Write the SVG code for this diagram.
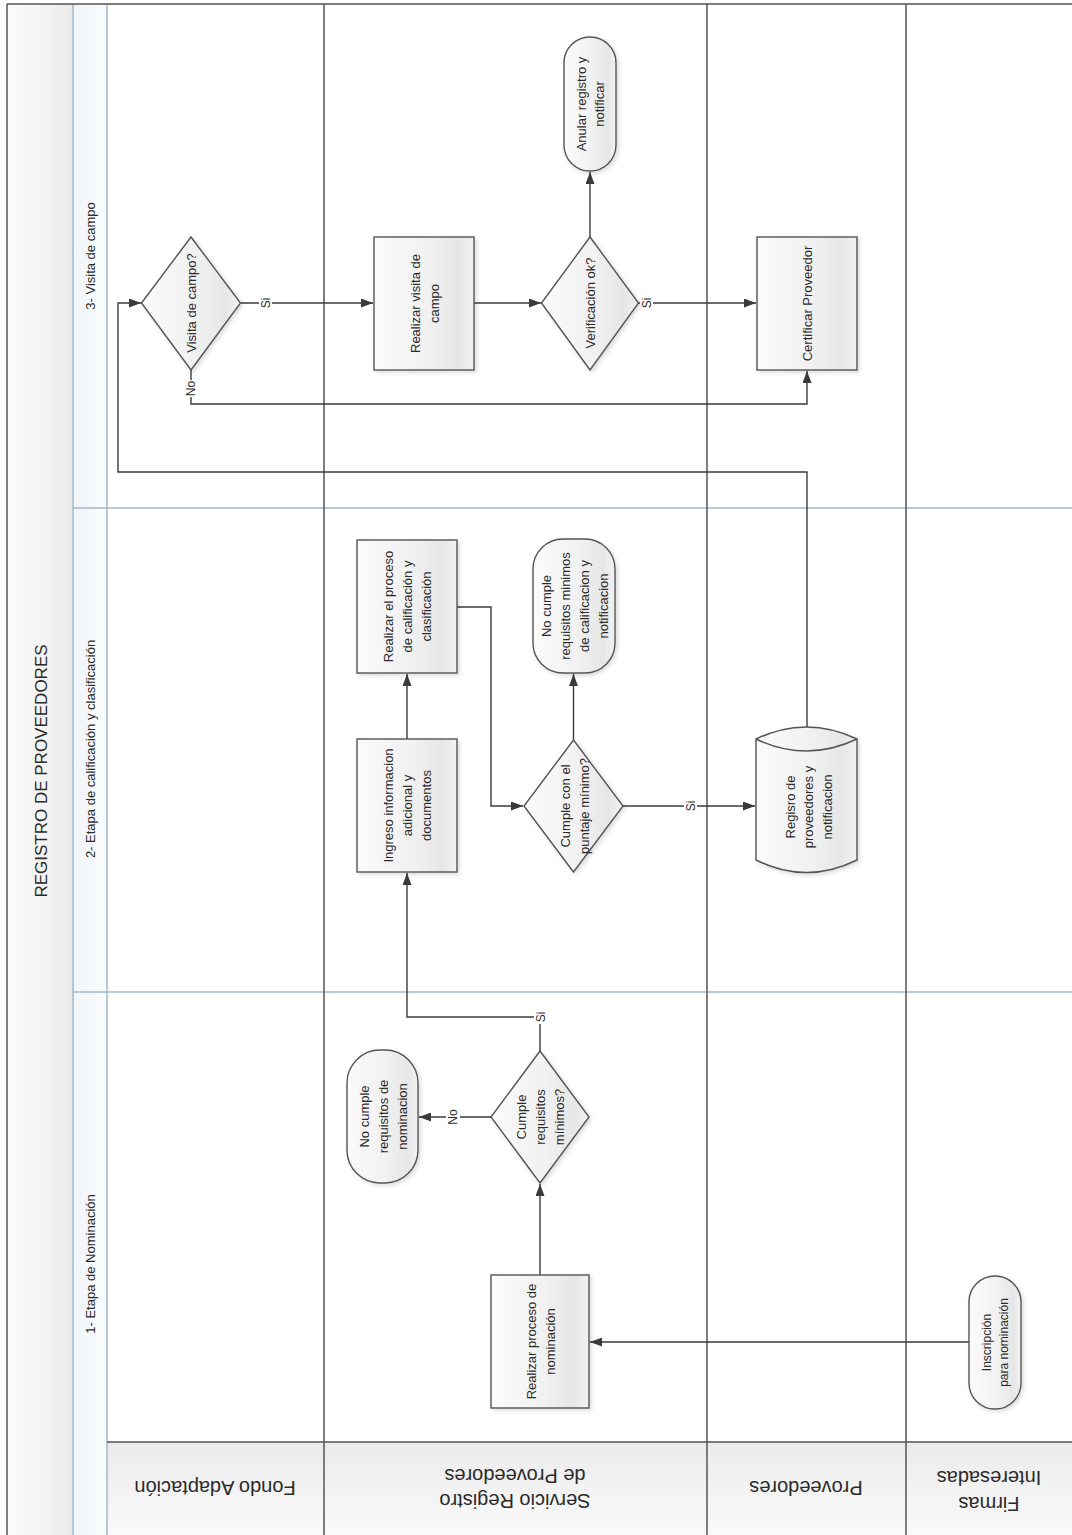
<svg xmlns="http://www.w3.org/2000/svg" width="1072" height="1535" viewBox="0 0 1072 1535">
<defs>
  <linearGradient id="gNode" x1="0" y1="0" x2="1" y2="0">
    <stop offset="0" stop-color="#fbfbfb"/>
    <stop offset="0.55" stop-color="#f1f1f1"/>
    <stop offset="0.85" stop-color="#e6e6e6"/>
    <stop offset="1" stop-color="#f2f2f2"/>
  </linearGradient>
  <linearGradient id="gTitle" x1="0" y1="0" x2="1" y2="0">
    <stop offset="0" stop-color="#fbfbfb"/>
    <stop offset="0.6" stop-color="#f3f3f3"/>
    <stop offset="1" stop-color="#e9e9e9"/>
  </linearGradient>
  <linearGradient id="gPhase" x1="0" y1="0" x2="1" y2="0">
    <stop offset="0" stop-color="#f1f5f9"/>
    <stop offset="1" stop-color="#fafcfd"/>
  </linearGradient>
  <linearGradient id="gHead" x1="0" y1="0" x2="0" y2="1">
    <stop offset="0" stop-color="#ebebeb"/>
    <stop offset="1" stop-color="#fafafa"/>
  </linearGradient>
  <marker id="arr" viewBox="0 0 12 9" refX="12" refY="4.5" markerWidth="12" markerHeight="9" markerUnits="userSpaceOnUse" orient="auto">
    <path d="M0,0 L12,4.5 L0,9 Z" fill="#3a3a3a"/>
  </marker>
  <filter id="sh" x="-15%" y="-15%" width="135%" height="135%">
    <feDropShadow dx="2" dy="2" stdDeviation="2" flood-color="#000" flood-opacity="0.14"/>
  </filter>
</defs>
<style>
  .shape { fill: url(#gNode); stroke: #555; stroke-width: 1.4; filter: url(#sh); }
  .t { font-family: "Liberation Sans", Arial, sans-serif; font-size: 13px; fill: #2b2b2b; text-anchor: middle; dominant-baseline: central; }
  .hd { font-family: "Liberation Sans", Arial, sans-serif; font-size: 20px; fill: #2b2b2b; text-anchor: middle; dominant-baseline: central; }
  .ph { font-family: "Liberation Sans", Arial, sans-serif; font-size: 13px; fill: #2b2b2b; text-anchor: middle; dominant-baseline: central; }
  .ttl { font-family: "Liberation Sans", Arial, sans-serif; font-size: 17px; fill: #2b2b2b; text-anchor: middle; dominant-baseline: central; }
  .lbl { font-family: "Liberation Sans", Arial, sans-serif; font-size: 12px; fill: #2b2b2b; text-anchor: middle; dominant-baseline: central; }
  .conn { fill: none; stroke: #3a3a3a; stroke-width: 1.4; marker-end: url(#arr); }
  .blue { stroke: #a3b7c8; stroke-width: 1.5; fill: none; }
  .lane { stroke: #555; stroke-width: 1.5; fill: none; }
  .bg { fill: #fff; }
</style>
<rect x="0" y="0" width="1072" height="1535" fill="#fff"/>
<g id="frame">
  <rect x="7" y="4" width="66" height="1535" fill="url(#gTitle)"/>
  <rect x="73" y="4" width="34" height="1535" fill="url(#gPhase)"/>
  <rect x="107" y="1442" width="965" height="95" fill="url(#gHead)"/>
  <line class="blue" x1="73" y1="508" x2="1072" y2="508"/>
  <line class="blue" x1="73" y1="992" x2="1072" y2="992"/>
  <line class="blue" x1="73" y1="4" x2="73" y2="1535"/>
  <line class="blue" x1="107" y1="4" x2="107" y2="1535"/>
  <line class="lane" x1="324" y1="4" x2="324" y2="1535"/>
  <line class="lane" x1="707" y1="4" x2="707" y2="1535"/>
  <line class="lane" x1="906" y1="4" x2="906" y2="1535"/>
  <line class="lane" x1="107" y1="1442" x2="1072" y2="1442"/>
  <line class="lane" x1="7" y1="4" x2="1072" y2="4"/>
  <line class="lane" x1="7" y1="4" x2="7" y2="1535"/>
  <text class="ttl" transform="translate(41,771) rotate(-90)">REGISTRO DE PROVEEDORES</text>
  <text class="ph" transform="translate(90,256) rotate(-90)">3- Visita de campo</text>
  <text class="ph" transform="translate(90,749) rotate(-90)">2- Etapa de calificación y clasificación</text>
  <text class="ph" transform="translate(90,1264) rotate(-90)">1- Etapa de Nominación</text>
  <text class="hd" transform="translate(215,1488) rotate(180)">Fondo Adaptación</text>
  <text class="hd" transform="translate(515,1488) rotate(180)"><tspan x="0" y="-12.5">Servicio Registro</tspan><tspan x="0" y="12.5">de Proveedores</tspan></text>
  <text class="hd" transform="translate(806,1488) rotate(180)">Proveedores</text>
  <text class="hd" transform="translate(989,1491) rotate(180)"><tspan x="0" y="-13">Firmas</tspan><tspan x="0" y="13">Interesadas</tspan></text>
</g>
<g id="connectors">
  <path class="conn" d="M969,1342 H590"/>
  <path class="conn" d="M540,1275 V1184"/>
  <path class="conn" d="M491,1117 H419"/>
  <path class="conn" d="M540,1051 V1017 H407 V873"/>
  <path class="conn" d="M407,739 V674"/>
  <path class="conn" d="M457,607 H491 V806 H523"/>
  <path class="conn" d="M573.5,740 V674"/>
  <path class="conn" d="M623,806 H755"/>
  <path class="conn" d="M807,727 V472 H118 V303 H141"/>
  <path class="conn" d="M240.5,303 H373"/>
  <path class="conn" d="M191,370 V404 H807 V371"/>
  <path class="conn" d="M474,303 H541"/>
  <path class="conn" d="M590,237 V172"/>
  <path class="conn" d="M638.5,303 H756"/>
  <g id="conn-labels">
    <rect class="bg" x="259" y="296" width="13" height="14"/>
    <text class="lbl" transform="translate(265.5,303) rotate(-90)">Si</text>
    <rect class="bg" x="185" y="380" width="12" height="17"/>
    <text class="lbl" transform="translate(191,388.5) rotate(-90)">No</text>
    <rect class="bg" x="640" y="296" width="13" height="14"/>
    <text class="lbl" transform="translate(646.5,303) rotate(-90)">Si</text>
    <rect class="bg" x="684" y="799" width="13" height="14"/>
    <text class="lbl" transform="translate(690.5,806) rotate(-90)">Si</text>
    <rect class="bg" x="534" y="1010" width="13" height="14"/>
    <text class="lbl" transform="translate(540.5,1017) rotate(-90)">Si</text>
    <rect class="bg" x="446" y="1108" width="14" height="18"/>
    <text class="lbl" transform="translate(453,1117) rotate(-90)">No</text>
  </g>
</g>
<g id="n-visita-decision">
  <polygon class="shape" points="191,237 240.5,303 191,370 141.5,303"/>
  <text class="t" transform="translate(191,303) rotate(-90)">Visita de campo?</text>
</g>
<g id="n-realizar-visita">
  <rect class="shape" x="374" y="237" width="100" height="133"/>
  <text class="t" transform="translate(424,303.5) rotate(-90)"><tspan x="0" y="-9.5">Realizar visita de</tspan><tspan x="0" y="9.5">campo</tspan></text>
</g>
<g id="n-verificacion">
  <polygon class="shape" points="590,237 638.5,303 590,370 541.5,303"/>
  <text class="t" transform="translate(590,303) rotate(-90)">Verificación ok?</text>
</g>
<g id="n-anular">
  <rect class="shape" x="564" y="37" width="52" height="134" rx="26" ry="26"/>
  <text class="t" transform="translate(590,104) rotate(-90)"><tspan x="0" y="-9">Anular registro y</tspan><tspan x="0" y="9">notificar</tspan></text>
</g>
<g id="n-certificar">
  <rect class="shape" x="757" y="237" width="100" height="133"/>
  <text class="t" transform="translate(807,303.5) rotate(-90)">Certificar Proveedor</text>
</g>
<g id="n-ingreso">
  <rect class="shape" x="357" y="739" width="100" height="133"/>
  <text class="t" transform="translate(407,805.5) rotate(-90)"><tspan x="0" y="-19">Ingreso informacion</tspan><tspan x="0" y="0">adicional y</tspan><tspan x="0" y="19">documentos</tspan></text>
</g>
<g id="n-calificacion">
  <rect class="shape" x="357" y="540" width="100" height="133"/>
  <text class="t" transform="translate(407,606.5) rotate(-90)"><tspan x="0" y="-19">Realizar el proceso</tspan><tspan x="0" y="0">de calificación y</tspan><tspan x="0" y="19">clasificación</tspan></text>
</g>
<g id="n-cumple-puntaje">
  <polygon class="shape" points="573.5,740 623,806 573.5,872 524,806"/>
  <text class="t" transform="translate(574,806) rotate(-90)"><tspan x="0" y="-9.5">Cumple con el</tspan><tspan x="0" y="9.5">puntaje mínimo?</tspan></text>
</g>
<g id="n-no-cumple-minimos">
  <rect class="shape" x="533" y="539" width="82" height="134" rx="30" ry="30"/>
  <text class="t" transform="translate(574,606) rotate(-90)"><tspan x="0" y="-28.5">No cumple</tspan><tspan x="0" y="-9.5">requisitos minimos</tspan><tspan x="0" y="9.5">de calificacion y</tspan><tspan x="0" y="28.5">notificacion</tspan></text>
</g>
<g id="n-registro-db">
  <path class="shape" d="M756,739 Q806.5,715 857,739 L857,860 Q806.5,885 756,860 Z"/>
  <path d="M756,739 Q806.5,763 857,739" fill="none" stroke="#555" stroke-width="1.4"/>
  <text class="t" transform="translate(808,807) rotate(-90)"><tspan x="0" y="-18.5">Regisro de</tspan><tspan x="0" y="0">proveedores y</tspan><tspan x="0" y="18.5">notificacion</tspan></text>
</g>
<g id="n-cumple-requisitos">
  <polygon class="shape" points="540,1051 589,1117 540,1183 491,1117"/>
  <text class="t" transform="translate(540,1117) rotate(-90)"><tspan x="0" y="-19">Cumple</tspan><tspan x="0" y="0">requisitos</tspan><tspan x="0" y="19">mínimos?</tspan></text>
</g>
<g id="n-no-cumple-nominacion">
  <rect class="shape" x="347" y="1050" width="71" height="133" rx="33" ry="33"/>
  <text class="t" transform="translate(382.5,1116.5) rotate(-90)"><tspan x="0" y="-19">No cumple</tspan><tspan x="0" y="0">requisitos de</tspan><tspan x="0" y="19">nominacion</tspan></text>
</g>
<g id="n-realizar-nominacion">
  <rect class="shape" x="491" y="1275" width="98" height="133"/>
  <text class="t" transform="translate(540,1341.5) rotate(-90)"><tspan x="0" y="-9.5">Realizar proceso de</tspan><tspan x="0" y="9.5">nominación</tspan></text>
</g>
<g id="n-inscripcion">
  <rect class="shape" x="969" y="1276" width="52" height="133" rx="26" ry="26"/>
  <text class="t" style="font-size:12px" transform="translate(995,1342.5) rotate(-90)"><tspan x="0" y="-8.5">Inscripción</tspan><tspan x="0" y="8.5">para nominación</tspan></text>
</g>
</svg>
